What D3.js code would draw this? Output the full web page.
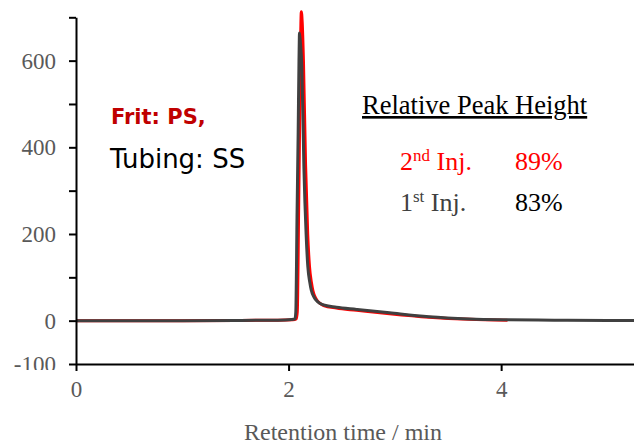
<!DOCTYPE html>
<html>
<head>
<meta charset="utf-8">
<script src="https://cdn.jsdelivr.net/npm/d3@7"></script>
<style>
  html, body { margin: 0; padding: 0; background: #fff; }
  svg { display: block; }
</style>
</head>
<body>
<svg id="chart" width="634" height="441"></svg>
<script>
// ---- data ----
const yTickValues = [-100, 0, 100, 200, 300, 400, 500, 600, 700];
const yTickLabels = ["-100", "0", "", "200", "", "400", "", "600", ""];
const xTickValues = [0, 2, 4];
const xTickLabels = ["0", "2", "4"];

// 1st injection (dark grey)
const inj1Time  = [0, 0.5, 1.0, 1.5, 1.9, 2.03, 2.06, 2.068, 2.08, 2.09, 2.098, 2.103, 2.112, 2.125, 2.144, 2.165, 2.181, 2.2, 2.213, 2.24, 2.272, 2.32, 2.45, 2.64, 2.95, 3.32, 3.7, 4.06, 4.5, 5.0, 5.25];
const inj1Value = [0, 0, 0, 0.5, 1, 2.5, 4, 20, 250, 430, 600, 664, 640, 586, 355, 200, 125, 88, 71, 54, 44, 37, 31, 26, 18, 9, 4, 2, 1, 0.5, 0.5];

// 2nd injection (red)
const inj2Time  = [0, 0.5, 1.0, 1.5, 1.9, 2.04, 2.072, 2.082, 2.095, 2.105, 2.114, 2.12, 2.128, 2.14, 2.16, 2.18, 2.197, 2.215, 2.23, 2.255, 2.29, 2.33, 2.45, 2.64, 2.95, 3.32, 3.7, 4.06];
const inj2Value = [0, 0, 0, 0.5, 1, 2, 4, 20, 260, 470, 660, 713, 690, 600, 360, 200, 125, 88, 68, 52, 41, 35, 29, 24, 16, 8, 3, 1];

const annotTitle = "Relative Peak Height";
const annotRows = [
  { base: "2", sup: "nd", rest: " Inj.", pct: "89%", color: "#ff0000", pctColor: "#ff0000" },
  { base: "1", sup: "st", rest: " Inj.", pct: "83%", color: "#404040", pctColor: "#000000" }
];

// ---- layout ----
const svg = d3.select("#chart");
const x = d3.scaleLinear().domain([0, 5.25]).range([76, 634]);
const y = d3.scaleLinear().domain([-100, 700]).range([364, 17.3]);

const serif = "'Liberation Serif', 'Times New Roman', serif";
const sans = "'DejaVu Sans', sans-serif";

svg.append("defs").append("clipPath").attr("id", "labelclip")
  .append("rect").attr("x", 0).attr("y", 0).attr("width", 634).attr("height", 370);

// lines
const line = d3.line().x(d => x(d[0])).y(d => y(d[1])).curve(d3.curveMonotoneX);
const d2 = inj2Time.map((t, i) => [t, inj2Value[i]]);
const d1 = inj1Time.map((t, i) => [t, inj1Value[i]]);

svg.append("path").datum(d2)
  .attr("d", line).attr("fill", "none")
  .attr("stroke", "#ff0000").attr("stroke-width", 3)
  .attr("stroke-linejoin", "round");
svg.append("path").datum(d1)
  .attr("d", line).attr("fill", "none")
  .attr("stroke", "#404040").attr("stroke-width", 3)
  .attr("stroke-linejoin", "round");

// y axis (inside a clipped wrapper so the "-100" label is cut like the reference)
const yWrap = svg.append("g").attr("clip-path", "url(#labelclip)");
const yAxis = d3.axisLeft(y).tickValues(yTickValues)
  .tickFormat((d, i) => yTickLabels[i]).tickSize(7).tickSizeOuter(0).tickPadding(13);
const gy = yWrap.append("g").attr("transform", `translate(${x(0)},0)`).call(yAxis);
gy.select(".domain").attr("stroke", "#000").attr("stroke-width", 2);
gy.selectAll(".tick line").attr("stroke", "#000").attr("stroke-width", 2);
gy.selectAll(".tick text").attr("fill", "#595959")
  .style("font-family", serif).style("font-size", "23px");

// x axis
const xAxis = d3.axisBottom(x).tickValues(xTickValues)
  .tickFormat((d, i) => xTickLabels[i]).tickSize(7).tickSizeOuter(0).tickPadding(10);
const gx = svg.append("g").attr("transform", `translate(0,${y(-100)})`).call(xAxis);
gx.select(".domain").attr("stroke", "#000").attr("stroke-width", 2);
gx.selectAll(".tick line").attr("stroke", "#000").attr("stroke-width", 2);
gx.selectAll(".tick text").attr("fill", "#595959")
  .style("font-family", serif).style("font-size", "23px");

// axis title
svg.append("text").attr("x", 343).attr("y", 440)
  .attr("text-anchor", "middle").attr("fill", "#595959")
  .style("font-family", serif).style("font-size", "24px")
  .text("Retention time / min");

// left annotation
svg.append("text").attr("x", 111).attr("y", 124)
  .attr("fill", "#c00000").style("font-family", sans)
  .style("font-weight", "bold").style("font-size", "21px")
  .text("Frit: PS,");
svg.append("text").attr("x", 110).attr("y", 168)
  .attr("fill", "#000").style("font-family", sans)
  .style("font-size", "26px")
  .text("Tubing: SS");

// right annotation
svg.append("text").attr("x", 362).attr("y", 114)
  .attr("fill", "#000").style("font-family", serif).style("font-size", "26.5px")
  .style("text-decoration", "underline")
  .text(annotTitle);

annotRows.forEach((r, i) => {
  const by = 170 + i * 41;
  const t = svg.append("text").attr("x", 400).attr("y", by)
    .attr("fill", r.color).style("font-family", serif).style("font-size", "26px");
  t.append("tspan").text(r.base);
  t.append("tspan").attr("dy", -9).style("font-size", "17px").text(r.sup);
  t.append("tspan").attr("dy", 9).text(r.rest);
  svg.append("text").attr("x", 515).attr("y", by)
    .attr("fill", r.pctColor).style("font-family", serif).style("font-size", "26px")
    .text(r.pct);
});
</script>
</body>
</html>
